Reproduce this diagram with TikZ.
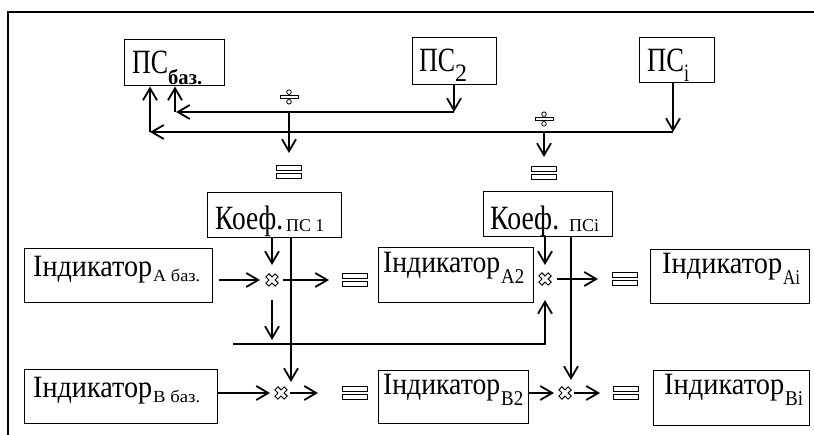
\documentclass[tikz,border=0pt]{standalone}
\usepackage{fontspec}
\usepackage{graphicx}
\setmainfont{Liberation Serif}
\usetikzlibrary{arrows.meta,calc}
% text of given width (pt) and font size
\newcommand\wtx[3]{\resizebox{#1pt}{\height}{\fontsize{#2}{#2}\selectfont #3}}
% lowered subscript of given width and size
\newcommand\sbw[4]{\raisebox{-#1pt}{\wtx{#2}{#3}{#4}}}
\tikzset{
  box/.style={draw, line width=1pt, inner sep=0pt},
  lbl/.style={anchor=base west, inner sep=0pt},
  arr/.style={line width=1.8pt, -{Straight Barb[length=12pt,width=14pt,line width=1.8pt]}},
  mulsym/.style={inner sep=0pt, minimum size=22pt,
    path picture={\draw[line width=0.9pt, shift={(path picture bounding box.center)}, scale=1.2]
      (3.04,-6.15) -- (6.15,-3.04) -- (3.11,0) -- (6.15,3.04) -- (3.04,6.15) -- (0,3.11)
      -- (-3.04,6.15) -- (-6.15,3.04) -- (-3.11,0) -- (-6.15,-3.04) -- (-3.04,-6.15) -- (0,-3.11) -- cycle;}},
  divsym/.style={inner sep=0pt, minimum width=24pt, minimum height=20pt,
    path picture={\begin{scope}[shift={(path picture bounding box.center)}, line width=0.8pt]
      \draw (0,-4.8) circle[radius=2.3]; \draw (0,4.8) circle[radius=2.3];
      \draw (-9,-1.1) rectangle (9,1.1);\end{scope}}},
  eqsym/.style={inner sep=0pt, minimum width=28pt, minimum height=16pt,
    path picture={\begin{scope}[shift={(path picture bounding box.center)}, line width=0.8pt]
      \draw (-12.5,-6.5) rectangle (12.5,-1.5); \draw (-12.5,1.5) rectangle (12.5,6.5);\end{scope}}},
}
\begin{document}
\begin{tikzpicture}[x=1pt,y=-1pt]
\useasboundingbox (0,0) rectangle (814,435);
% frame
\draw[line width=1.6pt] (8,435) -- (8,12) -- (814,12);
% boxes
\node[box, minimum width=100pt, minimum height=46pt] (ps1) at (174,63) {};
\node[box, minimum width=84pt, minimum height=47pt] (ps2) at (454,61.5) {};
\node[box, minimum width=75pt, minimum height=45pt] (psi) at (676.5,60.5) {};
\node[box, minimum width=134pt, minimum height=45pt] (k1) at (274,215.5) {};
\node[box, minimum width=129pt, minimum height=45pt] (ki) at (547.5,214.5) {};
\node[box, minimum width=188pt, minimum height=54pt] (iab) at (118,276) {};
\node[box, minimum width=193pt, minimum height=54pt] (ibb) at (120.5,397) {};
\node[box, minimum width=155pt, minimum height=55pt] (ia2) at (455.5,275.5) {};
\node[box, minimum width=150pt, minimum height=53pt] (ib2) at (453,397.5) {};
\node[box, minimum width=159pt, minimum height=54pt] (iai) at (729.5,277) {};
\node[box, minimum width=156pt, minimum height=55pt] (ibi) at (731,398.5) {};
% texts
\node[lbl] (tps1) at (132,74) {\wtx{36}{34}{ПС}\sbw{11}{34}{21}{\bfseries баз.}};
\node[lbl] (tps2) at (419,72) {\wtx{36}{34}{ПС}\sbw{10}{12}{25}{2}};
\node[lbl] (tpsi) at (647,72) {\wtx{37}{34}{ПС}\sbw{10}{5}{25}{i}};
\node[lbl] (tk1) at (215,230) {\wtx{68}{34}{Коеф.}\hspace{3pt}\sbw{2}{38}{18}{ПС 1}};
\node[lbl] (tki) at (490,230) {\wtx{69}{34}{Коеф.}\hspace{10pt}\sbw{2}{30}{18}{ПСi}};
\node[lbl] (tiab) at (33,277) {\wtx{119}{31}{Індикатор}\hspace{1pt}\sbw{5}{47}{17}{A баз.}};
\node[lbl] (tibb) at (33,398) {\wtx{119}{31}{Індикатор}\hspace{1pt}\sbw{5}{47}{17}{B баз.}};
\node[lbl] (tia2) at (383,273) {\wtx{117}{31}{Індикатор}\hspace{1pt}\sbw{11}{23}{21}{A2}};
\node[lbl] (tib2) at (383,395) {\wtx{117}{31}{Індикатор}\hspace{1pt}\sbw{11}{22}{21}{B2}};
\node[lbl] (tiai) at (662,274) {\wtx{120}{31}{Індикатор}\hspace{1pt}\sbw{11}{17}{21}{Ai}};
\node[lbl] (tibi) at (664,395) {\wtx{120}{31}{Індикатор}\hspace{1pt}\sbw{11}{18}{21}{Bi}};
% symbols
\node[divsym] (d1) at (289,97) {};
\node[divsym] (d2) at (544,119) {};
\node[eqsym] (e1) at (289,171.5) {};
\node[eqsym] (e2) at (544,173) {};
\node[mulsym] (m1) at (272,280) {};
\node[mulsym] (mB1) at (281,393) {};
\node[mulsym] (mA2) at (545,279) {};
\node[mulsym] (mB2) at (565,393) {};
\node[eqsym] (eA1) at (355,280) {};
\node[eqsym] (eB1) at (355,393) {};
\node[eqsym] (eA2) at (625,279) {};
\node[eqsym] (eB2) at (626,393) {};
% coordinates
\coordinate (b1r) at (454,112);
\coordinate (b1l) at (176,112);
\coordinate (u1) at (175,112);
\coordinate (b2r) at (673,132);
\coordinate (b2l) at (150,132);
\coordinate (j1) at (289,112);
\coordinate (j2) at (544,132);
\coordinate (c1) at (291,382);
\coordinate (c2) at (571,380);
\coordinate (h0) at (233,344);
% top connectors
\draw[arr] (ps2.south) -- (b1r);
\draw[arr] (b1r) -- (b1l);
\draw[arr] (u1) -- (u1 |- ps1.south);
\draw[arr] (psi.south -| b2r) -- (b2r);
\draw[arr] (b2r) -- (b2l);
\draw[arr] (b2l) -- (b2l |- ps1.south);
\draw[arr] (j1) -- ($(e1)+(0,-18.5)$);
\draw[arr] (j2) -- ($(e2)+(0,-16)$);
% row A left
\draw[arr] (k1.south -| m1) -- ($(m1)+(0,-15)$);
\draw[arr] ($(iab.east |- m1)+(6,0)$) -- ($(m1)+(-12,0)$);
\draw[arr] ($(m1)+(11,0)$) -- ($(eA1)+(-26,0)$);
\draw[arr] (k1.south -| c1) -- (c1);
\draw[arr] ($(m1)+(0,20)$) -- ($(m1)+(0,60)$);
\draw[arr] (h0) -- (h0 -| mA2) -- ($(mA2)+(0,21)$);
% row B left
\draw[arr] (ibb.east |- mB1) -- ($(mB1)+(-11,0)$);
\draw[arr] ($(mB1)+(9,0)$) -- ($(eB1)+(-37,0)$);
% right half
\draw[arr] (ki.south -| mA2) -- ($(mA2)+(0,-14)$);
\draw[arr] ($(mA2)+(12,0)$) -- ($(eA2)+(-27,0)$);
\draw[arr] (ki.south -| c2) -- (c2);
\draw[arr] (ib2.east |- mB2) -- ($(mB2)+(-11,0)$);
\draw[arr] ($(mB2)+(9,0)$) -- ($(eB2)+(-26,0)$);
\end{tikzpicture}
\end{document}
